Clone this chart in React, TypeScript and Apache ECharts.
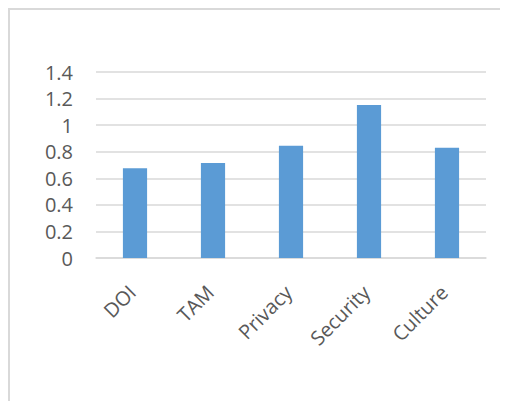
import React, { useEffect, useRef } from "react";
import * as echarts from "echarts";

const categories = ["DOI", "TAM", "Privacy", "Security", "Culture"];
const values = [0.675, 0.715, 0.845, 1.152, 0.83];
const yMin = 0;
const yMax = 1.4;
const yStep = 0.2;

const FONT = "'Open Sans', sans-serif";
const TEXT = "#595959";

export default function App() {
  const ref = useRef<HTMLDivElement>(null);

  useEffect(() => {
    if (!ref.current) return;
    const chart = echarts.init(ref.current, undefined, { renderer: "svg" });
    chart.setOption({
      animation: false,
      grid: { left: 86, top: 62, right: 22, bottom: 143 },
      xAxis: {
        type: "category",
        data: categories,
        axisLine: { lineStyle: { color: "#d9d9d9", width: 1.5 } },
        axisTick: { show: false },
        axisLabel: {
          rotate: 45,
          margin: 28,
          padding: [0, 4, 0, 0],
          color: TEXT,
          fontFamily: FONT,
          fontSize: 20,
        },
      },
      yAxis: {
        type: "value",
        min: yMin,
        max: yMax,
        interval: yStep,
        axisLine: { show: false },
        axisTick: { show: false },
        splitLine: { lineStyle: { color: "#d9d9d9", width: 1.5 } },
        axisLabel: {
          margin: 23,
          color: TEXT,
          fontFamily: FONT,
          fontSize: 20,
          formatter: (v: number) => String(Math.round(v * 10) / 10),
        },
      },
      series: [
        {
          type: "bar",
          data: values,
          barWidth: "31%",
          itemStyle: { color: "#5b9bd5" },
        },
      ],
    });
    return () => chart.dispose();
  }, []);

  return (
    <div
      style={{
        width: 500,
        height: 393,
        boxSizing: "border-box",
        borderLeft: "2px solid #d9d9d9",
        borderTop: "2px solid #d9d9d9",
        background: "#fff",
      }}
    >
      <div ref={ref} style={{ width: 498, height: 391 }} />
    </div>
  );
}
